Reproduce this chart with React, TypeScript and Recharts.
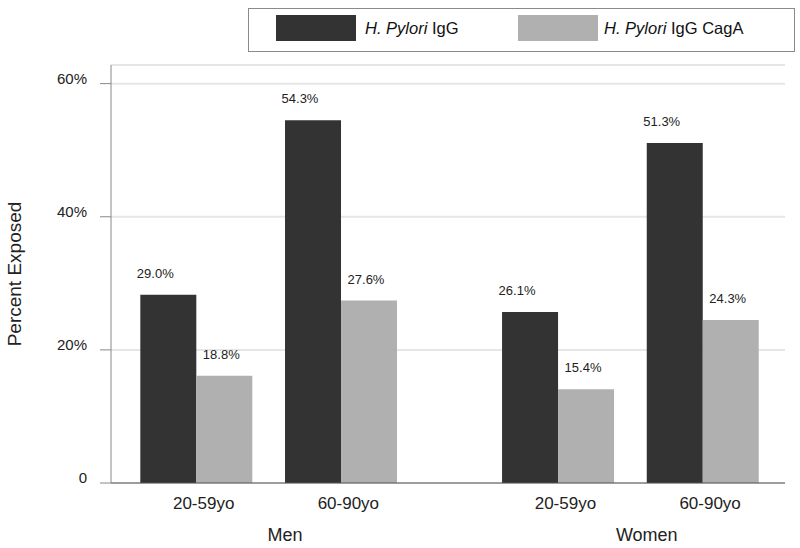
import React from 'react';
import { BarChart, Bar, XAxis, YAxis, CartesianGrid, Legend, LabelList } from 'recharts';

// categories (position on the x scale leaves a wider gap between Men and Women)
const ageGroups = ['20-59yo', '60-90yo', '20-59yo', '60-90yo'];
const sexes = ['Men', 'Men', 'Women', 'Women'];
const slots = [1, 2, 3.5, 4.5];

// bar heights, printed labels as shown
const iggValues = [28.3, 54.5, 25.7, 51.1];
const cagaValues = [16.1, 27.4, 14.1, 24.5];
const iggLabels = ['29.0%', '54.3%', '26.1%', '51.3%'];
const cagaLabels = ['18.8%', '27.6%', '15.4%', '24.3%'];

const yTicks = [0, 20, 40, 60];
const seriesNames = ['H. Pylori IgG', 'H. Pylori IgG CagA'];

const DARK = '#333333';
const LIGHT = '#b0b0b0';
const FONT = '"Liberation Sans", Arial, sans-serif';
const X_DOMAIN = [0.408, 5.066];

const data = slots.map((pos, i) => ({
  pos,
  age: ageGroups[i],
  igg: iggValues[i],
  caga: cagaValues[i],
  iggLabel: iggLabels[i],
  cagaLabel: cagaLabels[i],
}));

const groupNames = Array.from(new Set(sexes));
const groupTicks = groupNames.map((g) => {
  const ps = slots.filter((_, i) => sexes[i] === g);
  return ps.reduce((a, b) => a + b, 0) / ps.length;
});

const makeLabel = (dx: number) => (props: any) => {
  const { x, y, width, value } = props;
  return (
    <text x={x + width / 2 + dx} y={y - 17} textAnchor="middle" fontSize={13} fill="#222" fontFamily={FONT}>
      {value}
    </text>
  );
};

const LegendBox = () => {
  const item = (name: string, color: string, swatchLeft: number, textLeft: number) => {
    const [h, p, ...rest] = name.split(' ');
    return (
      <React.Fragment key={name}>
        <div style={{ position: 'absolute', left: swatchLeft, top: 6, width: 80, height: 26, background: color }} />
        <div style={{ position: 'absolute', left: textLeft, top: 8, fontSize: 16.5, color: '#111', whiteSpace: 'nowrap', lineHeight: '22px' }}>
          <i>{h} {p}</i> {rest.join(' ')}
        </div>
      </React.Fragment>
    );
  };
  return (
    <div style={{ position: 'relative', width: 547, height: 44, border: '1px solid #8a8a8a', boxSizing: 'border-box', fontFamily: FONT, background: '#fff' }}>
      {item(seriesNames[0], DARK, 27, 116)}
      {item(seriesNames[1], LIGHT, 269, 355)}
    </div>
  );
};

// age label under each bar pair, sex label centred under each pair of pairs
const AgeTick = (props: any) => {
  const { x, y, payload } = props;
  const i = slots.indexOf(payload.value);
  return (
    <text x={x + 7} y={y} dy="0.71em" textAnchor="middle" fontSize={17} fill="#222" fontFamily={FONT}>
      {ageGroups[i]}
    </text>
  );
};

export default function App() {
  return (
    <div style={{ position: 'absolute', left: 0, top: 0, width: 800, height: 548, background: '#fff', fontFamily: FONT }}>
      <BarChart width={800} height={548} data={data} margin={{ top: 65, right: 15, bottom: 0, left: 0 }} barGap={0} barSize={56}>
        <CartesianGrid vertical={false} stroke="#e6e6e6" strokeWidth={2} />
        <XAxis
          xAxisId="age"
          type="number"
          dataKey="pos"
          domain={X_DOMAIN}
          allowDataOverflow
          ticks={slots}
          height={30}
          tickLine={false}
          tickSize={0}
          tickMargin={14}
          axisLine={{ stroke: '#555' }}
          tick={<AgeTick />}
          interval={0}
        />
        <XAxis
          xAxisId="grp"
          type="number"
          dataKey="pos"
          scale="linear"
          domain={X_DOMAIN}
          allowDataOverflow
          ticks={groupTicks}
          tickFormatter={(v: number) => groupNames[groupTicks.indexOf(v)] ?? ''}
          height={35}
          axisLine={false}
          tickLine={false}
          tickSize={0}
          tickMargin={15}
          tick={{ fontSize: 18, fill: '#222', dx: 16 }}
          interval={0}
        />
        <YAxis
          domain={[0, 62.8]}
          ticks={yTicks}
          width={111}
          tickSize={11}
          tickMargin={13}
          axisLine={{ stroke: '#888' }}
          tickLine={{ stroke: '#888' }}
          tick={{ fontSize: 15, fill: '#222', dy: -5 }}
          tickFormatter={(v: number) => (v === 0 ? '0' : `${v}%`)}
          label={{ value: 'Percent Exposed', angle: -90, position: 'insideLeft', offset: 14, style: { textAnchor: 'middle', fontSize: 19, fill: '#222' } }}
        />
        <Legend
          verticalAlign="middle"
          align="center"
          wrapperStyle={{ position: 'absolute', top: 8, left: 248, width: 547, height: 44 }}
          content={() => <LegendBox />}
        />
        <Bar xAxisId="age" dataKey="igg" name={seriesNames[0]} fill={DARK} isAnimationActive={false}>
          <LabelList dataKey="iggLabel" content={makeLabel(-13)} />
        </Bar>
        <Bar xAxisId="age" dataKey="caga" name={seriesNames[1]} fill={LIGHT} isAnimationActive={false}>
          <LabelList dataKey="cagaLabel" content={makeLabel(-3)} />
        </Bar>
      </BarChart>
    </div>
  );
}
